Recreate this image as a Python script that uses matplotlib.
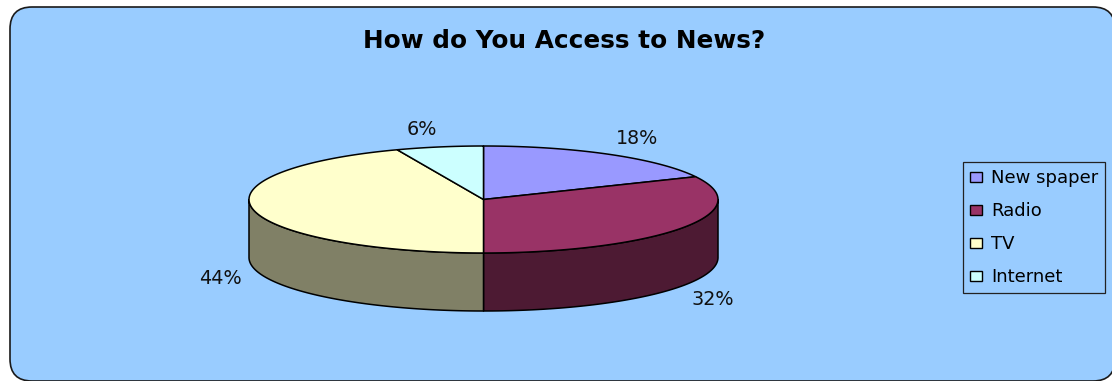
import numpy as np
import matplotlib
matplotlib.use("Agg")
import matplotlib.pyplot as plt
from matplotlib.patches import Polygon, Patch, FancyBboxPatch

# ---------------------------------------------------------------------------
# Datos de la encuesta
# ---------------------------------------------------------------------------
categorias = ["New spaper", "Radio", "TV", "Internet"]
porcentajes = [18, 32, 44, 6]
colores = ["#9999FF", "#993366", "#FFFFCC", "#CCFFFF"]

titulo = "How do You Access to News?"

# Geometría del pastel en píxeles (elipse superior + grosor)
CX, CY = 483.5, 199.5
RX, RY = 234.5, 53.5
GROSOR = 58


def _oscurecer(color_hex, factor=0.5):
    rgb = np.array(matplotlib.colors.to_rgb(color_hex))
    return tuple(rgb * factor)


def _punto(theta_deg, dy=0.0):
    t = np.radians(theta_deg)
    return CX + RX * np.cos(t), CY - RY * np.sin(t) + dy


def _arco(t0, t1, dy=0.0, n=120):
    ts = np.linspace(t0, t1, n)
    xs, ys = _punto(ts, dy)
    return np.column_stack([xs, ys])


fig = plt.figure(figsize=(11.12, 3.81), dpi=100)
fig.patch.set_facecolor("white")
ax = fig.add_axes([0, 0, 1, 1])
ax.set_xlim(0, 1112)
ax.set_ylim(381, 0)
ax.axis("off")

# Fondo redondeado del gráfico (se corta por la derecha y por abajo)
fondo = FancyBboxPatch(
    (10, 7), 1105, 374,
    boxstyle="round,pad=0,rounding_size=22",
    facecolor="#99CCFF", edgecolor="#1a1a1a", linewidth=1.2, zorder=0,
    clip_on=False,
)
ax.add_patch(fondo)

ax.text(564, 48, titulo, ha="center", va="baseline",
        fontsize=17.8, fontweight="bold", color="black")

# Ángulos de cada porción (sentido horario desde las 12)
total = float(sum(porcentajes))
acumulado = np.concatenate([[0], np.cumsum(porcentajes)]) / total
inicios = 90 - 360 * acumulado[:-1]
finales = 90 - 360 * acumulado[1:]

estilo_borde = dict(edgecolor="black", linewidth=1.1, joinstyle="round")

# Caras laterales visibles (mitad frontal del pastel)
for ini, fin, color in zip(inicios, finales, colores):
    lo, hi = fin, ini
    for desplaz in (-720, -360, 0, 360):
        s = max(lo, 180 + desplaz)
        e = min(hi, 360 + desplaz)
        if s < e:
            arriba = _arco(s, e)
            abajo = _arco(e, s, dy=GROSOR)
            lado = Polygon(np.vstack([arriba, abajo]), closed=True,
                           facecolor=_oscurecer(color), zorder=2, **estilo_borde)
            ax.add_patch(lado)

# Caras superiores
for ini, fin, color in zip(inicios, finales, colores):
    puntos = np.vstack([[CX, CY], _arco(ini, fin)])
    tapa = Polygon(puntos, closed=True, facecolor=color, zorder=3, **estilo_borde)
    ax.add_patch(tapa)

# Etiquetas de porcentaje fuera del pastel
for ini, fin, valor in zip(inicios, finales, porcentajes):
    medio = np.radians((ini + fin) / 2)
    c, s = np.cos(medio), np.sin(medio)
    x = CX + RX * 1.05 * c
    y = CY - RY * 1.15 * s + (GROSOR if s < 0 else 0)
    ax.text(x, y, f"{valor}%", fontsize=13.8, color="#111111",
            ha="left" if c > 0 else "right",
            va="bottom" if s > 0 else "top", zorder=4)

manejadores = [Patch(facecolor=c, edgecolor="black", linewidth=1.0) for c in colores]
leyenda = ax.legend(
    manejadores, categorias,
    loc="upper left", bbox_to_anchor=(963, 162), bbox_transform=ax.transData,
    fontsize=13, frameon=True, fancybox=False, shadow=False,
    handlelength=0.65, handleheight=0.5, handletextpad=0.5,
    labelspacing=0.83, borderpad=0.4, borderaxespad=0,
)
marco = leyenda.get_frame()
marco.set_facecolor("#99CCFF")
marco.set_edgecolor("#222222")
marco.set_linewidth(0.9)
marco.set_alpha(1)

fig.savefig("out.png", dpi=100, facecolor=fig.get_facecolor())
